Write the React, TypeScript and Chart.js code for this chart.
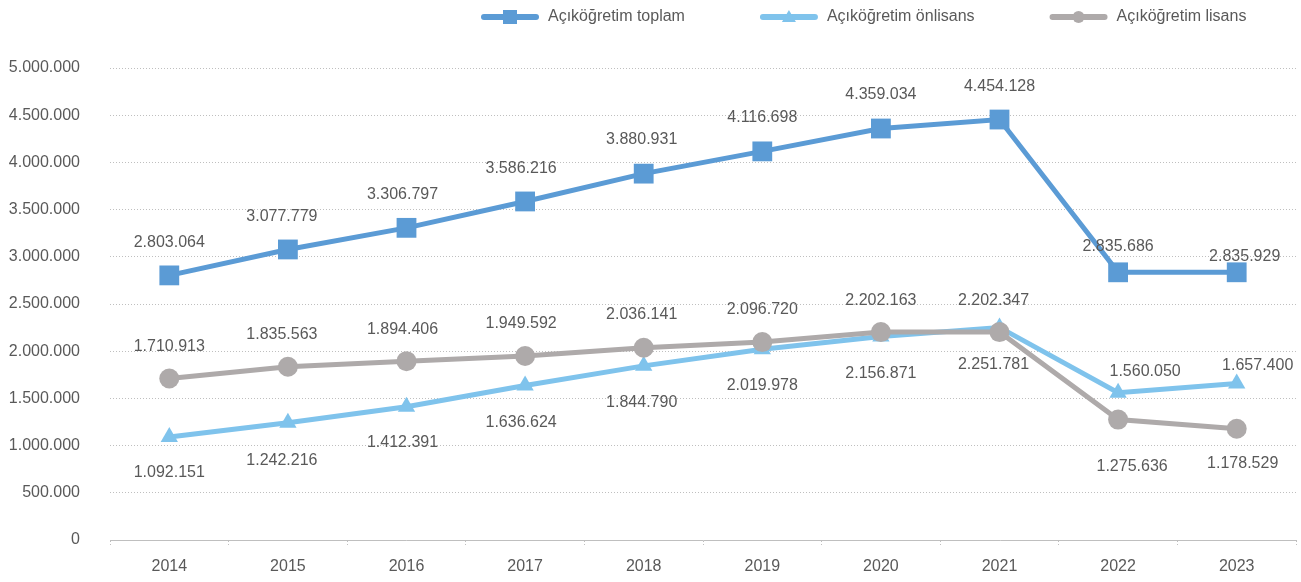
import React, { useEffect, useRef } from 'react';
import { Chart, registerables } from 'chart.js';

Chart.register(...registerables);

const years = ['2014', '2015', '2016', '2017', '2018', '2019', '2020', '2021', '2022', '2023'];
const toplam = [2803064, 3077779, 3306797, 3586216, 3880931, 4116698, 4359034, 4454128, 2835686, 2835929];
const onlisans = [1092151, 1242216, 1412391, 1636624, 1844790, 2019978, 2156871, 2251781, 1560050, 1657400];
const lisans = [1710913, 1835563, 1894406, 1949592, 2036141, 2096720, 2202163, 2202347, 1275636, 1178529];
const seriesNames = ['Açıköğretim toplam', 'Açıköğretim önlisans', 'Açıköğretim lisans'];

// label placement (offset of label centre from its point)
const toplamLabelDx = [0, -6, -4, -4, -2, 0, 0, 0, 0, 8];
const toplamLabelDy = [-33, -33, -33, -33, -34, -34, -34, -33, -26, -16];
const onlisansLabelDx = [0, -6, -4, -4, -2, 0, 0, -6, 27, 21];
const onlisansLabelDy = [36, 38, 36, 37, 37, 36, 37, 37, -21, -18];
const lisansLabelDx = [0, -6, -4, -4, -2, 0, 0, -6, 14, 6];
const lisansLabelDy = [-32, -32, -32, -32, -33, -32, -32, -32, 47, 35];

const FONT = "'Liberation Sans Narrow', 'Arial Narrow', 'Liberation Sans', Arial, sans-serif";
const FONT_SIZE = 16;
const TEXT = '#595959';
const GRID = '#BFBFBF';
const C_TOPLAM = '#5B9BD5';
const C_ONLISANS = '#7FC3EC';
const C_LISANS = '#AEAAAA';

function fmt(v: number): string {
  return String(Math.round(v)).replace(/\B(?=(\d{3})+(?!\d))/g, '.');
}

const labelOffsets = [
  { dx: toplamLabelDx, dy: toplamLabelDy },
  { dx: onlisansLabelDx, dy: onlisansLabelDy },
  { dx: lisansLabelDx, dy: lisansLabelDy },
];

const dataLabelPlugin = {
  id: 'dataLabels',
  afterDatasetsDraw(chart: any) {
    const ctx = chart.ctx;
    ctx.save();
    ctx.font = `${FONT_SIZE}px ${FONT}`;
    ctx.fillStyle = TEXT;
    ctx.textAlign = 'center';
    ctx.textBaseline = 'middle';
    chart.data.datasets.forEach((ds: any, i: number) => {
      const meta = chart.getDatasetMeta(i);
      meta.data.forEach((pt: any, j: number) => {
        const off = labelOffsets[i];
        ctx.fillText(fmt(ds.data[j]), pt.x + off.dx[j], pt.y + off.dy[j]);
      });
    });
    ctx.restore();
  },
};

const legendPlugin = {
  id: 'customLegend',
  afterDraw(chart: any) {
    const ctx = chart.ctx;
    ctx.save();
    ctx.font = `${FONT_SIZE}px ${FONT}`;
    ctx.textBaseline = 'middle';
    ctx.textAlign = 'left';
    const y = 17;
    const lineLen = 58;
    let x = 481;
    chart.data.datasets.forEach((ds: any) => {
      const color = ds.borderColor;
      ctx.strokeStyle = color;
      ctx.fillStyle = color;
      ctx.lineWidth = 6;
      ctx.lineCap = 'round';
      ctx.beginPath();
      ctx.moveTo(x + 3, y);
      ctx.lineTo(x + lineLen - 3, y);
      ctx.stroke();
      const cx = x + lineLen / 2;
      ctx.beginPath();
      if (ds.pointStyle === 'rect') {
        ctx.rect(cx - 7, y - 7, 14, 14);
      } else if (ds.pointStyle === 'triangle') {
        ctx.moveTo(cx, y - 7);
        ctx.lineTo(cx + 7, y + 5);
        ctx.lineTo(cx - 7, y + 5);
        ctx.closePath();
      } else {
        ctx.arc(cx, y, 6, 0, Math.PI * 2);
      }
      ctx.fill();
      ctx.fillStyle = TEXT;
      const tx = x + lineLen + 9;
      ctx.fillText(ds.label, tx, y);
      x = tx + ctx.measureText(ds.label).width + 75;
    });
    ctx.restore();
  },
};

export default function App() {
  const ref = useRef<HTMLCanvasElement | null>(null);
  useEffect(() => {
    if (!ref.current) return;
    const chart = new Chart(ref.current, {
      type: 'line',
      data: {
        labels: years,
        datasets: [
          {
            label: seriesNames[0],
            data: toplam,
            borderColor: C_TOPLAM,
            backgroundColor: C_TOPLAM,
            borderWidth: 5,
            pointStyle: 'rect',
            pointRadius: 14,
            pointBorderWidth: 0,
            tension: 0,
            order: 2,
          },
          {
            label: seriesNames[1],
            data: onlisans,
            borderColor: C_ONLISANS,
            backgroundColor: C_ONLISANS,
            borderWidth: 5,
            pointStyle: 'triangle',
            pointRadius: 10,
            pointBorderWidth: 0,
            tension: 0,
            order: 1,
          },
          {
            label: seriesNames[2],
            data: lisans,
            borderColor: C_LISANS,
            backgroundColor: C_LISANS,
            borderWidth: 5,
            pointStyle: 'circle',
            pointRadius: 10,
            pointBorderWidth: 0,
            tension: 0,
            order: 0,
          },
        ],
      },
      options: {
        animation: false,
        responsive: true,
        maintainAspectRatio: false,
        layout: { autoPadding: false, padding: { top: 68, left: 9, right: 5, bottom: 0 } },
        plugins: {
          legend: { display: false },
          tooltip: { enabled: false },
        },
        scales: {
          x: {
            offset: true,
            afterFit: (scale: any) => {
              scale.height = 42;
              scale.paddingLeft = 0;
              scale.paddingRight = 0;
            },
            grid: {
              offset: true,
              drawOnChartArea: false,
              drawTicks: true,
              tickLength: 6,
              color: GRID,
              tickBorderDash: [1, 2],
            },
            border: { display: true, color: GRID, dash: [1, 2] },
            ticks: {
              color: TEXT,
              font: { family: FONT, size: FONT_SIZE },
              padding: 11,
              maxRotation: 0,
            },
          },
          y: {
            min: 0,
            max: 5000000,
            afterFit: (scale: any) => {
              scale.width = 101;
              scale.paddingTop = 0;
              scale.paddingBottom = 0;
            },
            grid: { color: GRID, drawTicks: false },
            border: { display: false, dash: [1, 2] },
            ticks: {
              stepSize: 500000,
              color: TEXT,
              font: { family: FONT, size: FONT_SIZE },
              padding: 30,
              callback: (v: any) => fmt(Number(v)),
            },
          },
        },
      },
      plugins: [dataLabelPlugin, legendPlugin],
    });
    return () => chart.destroy();
  }, []);
  return (
    <div style={{ position: 'absolute', left: 0, top: 0, width: 1301, height: 582 }}>
      <canvas ref={ref} />
    </div>
  );
}
